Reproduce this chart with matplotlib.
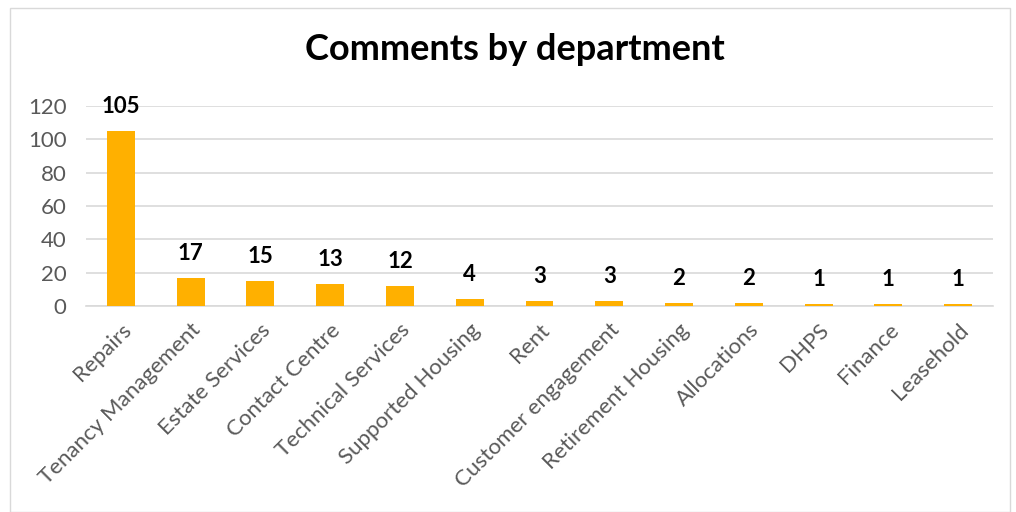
import matplotlib.pyplot as plt
from matplotlib.patches import Rectangle

departments = ['Repairs', 'Tenancy Management', 'Estate Services', 'Contact Centre',
               'Technical Services', 'Supported Housing', 'Rent', 'Customer engagement',
               'Retirement Housing', 'Allocations', 'DHPS', 'Finance', 'Leasehold']
comments = [105, 17, 15, 13, 12, 4, 3, 3, 2, 2, 1, 1, 1]
yticks = [0, 20, 40, 60, 80, 100, 120]

plt.rcParams['font.family'] = ['Lato', 'DejaVu Sans']

fig = plt.figure(figsize=(10.16, 5.12), dpi=100)
ax = fig.add_axes([86 / 1016, 1 - 306 / 512, 907 / 1016, 200 / 512])

x = range(len(departments))
bars = ax.bar(x, comments, width=0.4, color='#FFB000', zorder=3)
for xi, v in zip(x, comments):
    ax.annotate(str(v), (xi, v), xytext=(0, 10), textcoords='offset points',
                ha='center', va='bottom', fontsize=16, fontweight='bold', color='black')

ax.set_xlim(-0.5, len(departments) - 0.5)
ax.set_ylim(0, 120)
ax.set_yticks(yticks)
ax.grid(axis='y', color='#d9d9d9', lw=1.2, zorder=0)
for s in ['top', 'right', 'left']:
    ax.spines[s].set_visible(False)
ax.spines['bottom'].set_color('#d9d9d9')
ax.spines['bottom'].set_linewidth(1.2)
ax.tick_params(axis='both', length=0, colors='#595959', labelsize=16)
ax.tick_params(axis='y', pad=14)
ax.set_xticks(list(x))
ax.set_xticklabels(departments, rotation=45, ha='right', rotation_mode='anchor')
ax.tick_params(axis='x', pad=10)

fig.text(515 / 1016, 1 - 50 / 512, 'Comments by department', ha='center', va='center',
         fontsize=26, fontweight='bold', color='black')

fig.patches.append(Rectangle((10 / 1016, 0), 1000 / 1016, 1 - 8 / 512, transform=fig.transFigure,
                             fill=False, edgecolor='#d9d9d9', lw=1))

fig.savefig('out.png', dpi=100)
